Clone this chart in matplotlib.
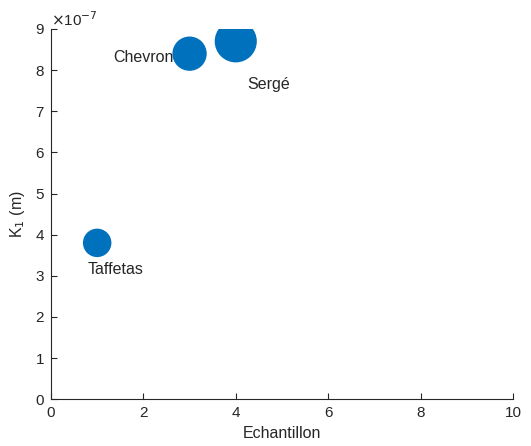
import matplotlib.pyplot as plt
from matplotlib.ticker import FuncFormatter

plt.rcParams['font.family'] = ['Liberation Sans', 'DejaVu Sans']

# data
names = ['Taffetas', 'Chevron', 'Sergé']
echantillon = [1, 3, 4]
k1 = [3.8e-7, 8.4e-7, 8.7e-7]
sizes = [420, 610, 920]

fig = plt.figure(figsize=(5.31, 4.46), dpi=100)
ax = fig.add_axes([0.096, 0.105, 0.87, 0.83])

ax.scatter(echantillon, k1, s=sizes, color='#0072BD', edgecolors='none', zorder=3)

txt = '#262626'
# labels next to bubbles
ax.text(echantillon[0] - 0.2, k1[0] - 0.65e-7, names[0], fontsize=11.5, color=txt,
        ha='left', va='center')
ax.text(echantillon[1] - 0.34, k1[1] - 0.1e-7, names[1], fontsize=11.5, color=txt,
        ha='right', va='center')
ax.text(echantillon[2] + 0.25, k1[2] - 1.05e-7, names[2], fontsize=11.5, color=txt,
        ha='left', va='center')

ax.set_xlim(0, 10)
ax.set_ylim(0, 9e-7)
ax.set_xticks(range(0, 11, 2))
ax.set_yticks([i * 1e-7 for i in range(10)])
ax.yaxis.set_major_formatter(FuncFormatter(lambda v, p: f'{v / 1e-7:.0f}'))

for s in ['top', 'right']:
    ax.spines[s].set_visible(False)
for s in ['left', 'bottom']:
    ax.spines[s].set_color(txt)
    ax.spines[s].set_linewidth(0.8)
ax.tick_params(direction='in', length=4, width=0.8, colors=txt, labelsize=11, pad=5)

ax.set_xlabel('Echantillon', fontsize=11.5, color=txt, labelpad=4)
ax.set_ylabel('K$_1$ (m)', fontsize=11.5, color=txt, labelpad=6)
ax.text(0.0, 1.0, r'$\times$10$^{-7}$', transform=ax.transAxes, fontsize=11,
        color=txt, ha='left', va='bottom')

fig.savefig('out.png', dpi=100)
